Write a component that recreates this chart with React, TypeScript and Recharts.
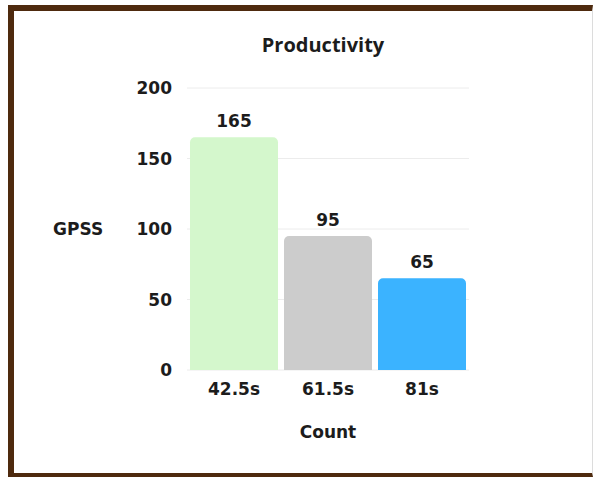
import React from 'react';
import { BarChart, Bar, XAxis, YAxis, CartesianGrid, Cell, LabelList } from 'recharts';

const categories = ['42.5s', '61.5s', '81s'];
const gpssValues = [165, 95, 65];
const barColors = ['#d4f7cc', '#cccccc', '#3bb3ff'];
const yTicks = [0, 50, 100, 150, 200];

const data = categories.map((name, i) => ({ name, value: gpssValues[i], color: barColors[i] }));

const font = '"DejaVu Sans", sans-serif';
const titleFont = '"Open Sans", sans-serif';
const ink = '#1c1c1c';

const App: React.FC = () => {
  return (
    <div style={{ position: 'absolute', left: 0, top: 0, width: 593, height: 477, background: '#fff', overflow: 'hidden' }}>
      {/* photo frame */}
      <div
        style={{
          position: 'absolute',
          left: 8,
          top: 5,
          width: 578,
          height: 462,
          borderLeft: '6px solid #4e2a0e',
          borderTop: '6px solid #4e2a0e',
          borderBottom: '4px solid #4e2a0e',
          borderRight: '1px solid #dcdcdc',
        }}
      />
      <div
        style={{
          position: 'absolute',
          left: 0,
          width: 646,
          top: 31,
          textAlign: 'center',
          fontSize: 20,
          lineHeight: '27px',
          fontWeight: 700,
          fontFamily: titleFont,
          color: ink,
        }}
      >
        Productivity
      </div>
      <div style={{ position: 'absolute', left: 0, top: 0 }}>
        <BarChart
          width={593}
          height={477}
          data={data}
          margin={{ top: 88, right: 124, bottom: 37, left: 0 }}
          barCategoryGap={3}
        >
          <CartesianGrid vertical={false} stroke="#ececec" />
          <XAxis
            dataKey="name"
            height={70}
            axisLine={false}
            tickLine={false}
            tickSize={0}
            tickMargin={13}
            tick={{ fill: ink, fontSize: 17, fontWeight: 700, fontFamily: font }}
            label={{ value: 'Count', position: 'insideBottom', offset: 2, fill: ink, fontSize: 17, fontWeight: 700, fontFamily: font }}
          />
          <YAxis
            width={187}
            domain={[0, 200]}
            ticks={yTicks}
            axisLine={false}
            tickLine={false}
            tickSize={0}
            tickMargin={15}
            tick={{ fill: ink, fontSize: 17, fontWeight: 700, fontFamily: font }}
            label={{ value: 'GPSS', position: 'insideLeft', offset: 53, fill: ink, fontSize: 17, fontWeight: 700, fontFamily: font }}
          />
          <Bar dataKey="value" radius={[5, 5, 0, 0]} isAnimationActive={false}>
            {data.map((d, i) => (
              <Cell key={`c-${i}`} fill={d.color} />
            ))}
            <LabelList dataKey="value" position="top" offset={10} fill={ink} fontSize={17} fontWeight={700} fontFamily={font} />
          </Bar>
        </BarChart>
      </div>
    </div>
  );
};

export default App;
